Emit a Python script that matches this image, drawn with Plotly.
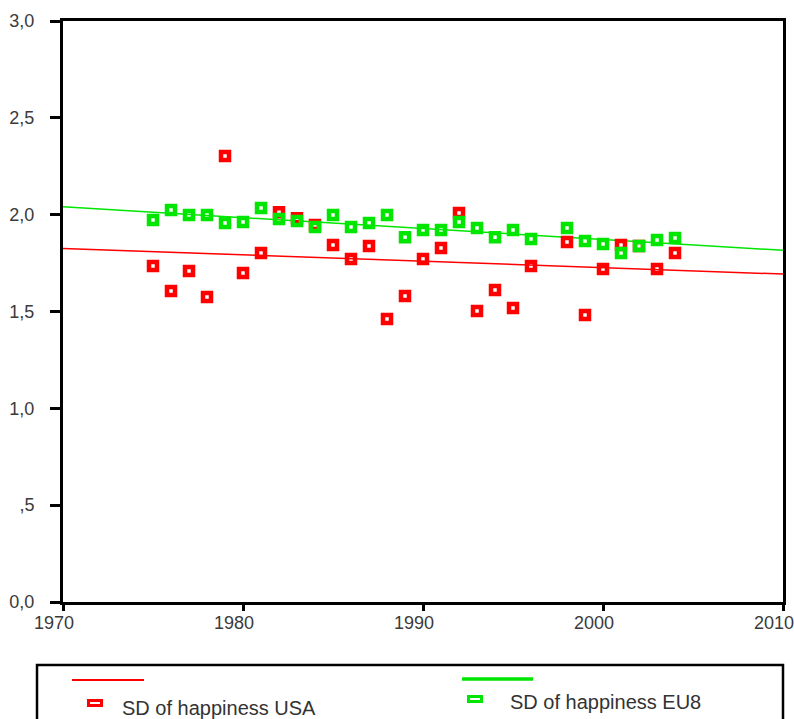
import numpy as np
import plotly.graph_objects as go

years_usa = [1975, 1976, 1977, 1978, 1979, 1980, 1981, 1982, 1983, 1984, 1985, 1986, 1987, 1988,
             1989, 1990, 1991, 1992, 1993, 1994, 1995, 1996, 1998, 1999, 2000, 2001, 2002, 2003, 2004]
sd_usa = [1.735, 1.606, 1.709, 1.575, 2.303, 1.699, 1.802, 2.013, 1.982, 1.946, 1.843, 1.771, 1.838, 1.461,
          1.580, 1.771, 1.828, 2.008, 1.502, 1.611, 1.518, 1.735, 1.859, 1.482, 1.719, 1.843, 1.838, 1.719, 1.802]

years_eu = [1975, 1976, 1977, 1978, 1979, 1980, 1981, 1982, 1983, 1984, 1985, 1986, 1987, 1988,
            1989, 1990, 1991, 1992, 1993, 1994, 1995, 1996, 1998, 1999, 2000, 2001, 2002, 2003, 2004]
sd_eu = [1.972, 2.024, 1.998, 1.998, 1.957, 1.962, 2.034, 1.977, 1.967, 1.936, 1.998, 1.936, 1.957, 1.998,
         1.884, 1.921, 1.921, 1.962, 1.931, 1.884, 1.921, 1.874, 1.931, 1.864, 1.848, 1.802, 1.838, 1.869, 1.879]

x_ticks = [1970, 1980, 1990, 2000, 2010]
y_ticks = [0.0, 0.5, 1.0, 1.5, 2.0, 2.5, 3.0]
y_labels = ["0,0", ",5", "1,0", "1,5", "2,0", "2,5", "3,0"]

RED = "#ff0000"
GREEN = "#00e600"
FONT = "Liberation Sans, Arial, sans-serif"

fit_x = np.array([1970, 2010])
b_usa = np.polyfit(years_usa, sd_usa, 1)
b_eu = np.polyfit(years_eu, sd_eu, 1)

fig = go.Figure()
fig.add_trace(go.Scatter(x=fit_x, y=np.polyval(b_usa, fit_x), mode="lines",
                         line=dict(color=RED, width=1.5), showlegend=False, hoverinfo="skip"))
fig.add_trace(go.Scatter(x=fit_x, y=np.polyval(b_eu, fit_x), mode="lines",
                         line=dict(color=GREEN, width=1.5), showlegend=False, hoverinfo="skip"))
fig.add_trace(go.Scatter(x=years_usa, y=sd_usa, mode="markers", name="SD of happiness USA",
                         marker=dict(symbol="square-open", size=8, color=RED, line=dict(width=4.5, color=RED)),
                         showlegend=False))
fig.add_trace(go.Scatter(x=years_eu, y=sd_eu, mode="markers", name="SD of happiness EU8",
                         marker=dict(symbol="square-open", size=8, color=GREEN, line=dict(width=4.5, color=GREEN)),
                         showlegend=False))

axis_common = dict(showline=True, linewidth=3, linecolor="black", mirror=True, showgrid=False,
                   zeroline=False, ticks="outside", tickwidth=3, tickcolor="black",
                   ticklabeloverflow="allow", automargin=False,
                   tickfont=dict(family=FONT, size=18, color="#3a3a3a"))

fig.update_xaxes(range=[1970, 2010], tickvals=x_ticks, ticktext=[str(v) for v in x_ticks],
                 ticklen=6, ticklabelshift=-9, ticklabelstandoff=-4, **axis_common)
fig.update_yaxes(range=[0, 3], tickvals=y_ticks, ticktext=y_labels,
                 ticklen=10, ticklabelstandoff=12, **axis_common)

# custom legend (SPSS style)
shapes = [
    dict(type="rect", xref="paper", yref="paper", x0=-0.0361, x1=1.0, y0=-0.2203, y1=-0.1084,
         line=dict(color="black", width=2.5), fillcolor="white"),
    dict(type="line", xref="paper", yref="paper", x0=0.0125, x1=0.1125, y0=-0.1343, y1=-0.1343,
         line=dict(color=RED, width=2)),
    dict(type="line", xref="paper", yref="paper", x0=0.5542, x1=0.6528, y0=-0.1325, y1=-0.1325,
         line=dict(color=GREEN, width=3.5)),
    dict(type="rect", xref="paper", yref="paper", x0=0.0354, x1=0.0535, y0=-0.1781, y1=-0.1695,
         line=dict(color=RED, width=3), fillcolor="white"),
    dict(type="rect", xref="paper", yref="paper", x0=0.5632, x1=0.5813, y0=-0.1713, y1=-0.1627,
         line=dict(color=GREEN, width=3), fillcolor="white"),
]
annotations = [
    dict(text="SD of happiness USA", xref="paper", yref="paper", x=0.0819, y=-0.1824, xanchor="left",
         yanchor="middle", showarrow=False, xshift=-2,
         font=dict(family=FONT, size=20, color="#333333")),
    dict(text="SD of happiness EU8", xref="paper", yref="paper", x=0.6208, y=-0.1721, xanchor="left",
         yanchor="middle", showarrow=False, xshift=-2,
         font=dict(family=FONT, size=20, color="#333333")),
]

fig.update_layout(width=794, height=719, margin=dict(l=63, r=11, t=21, b=117),
                  paper_bgcolor="white", plot_bgcolor="white",
                  shapes=shapes, annotations=annotations, showlegend=False)

fig.write_html("out.html")
